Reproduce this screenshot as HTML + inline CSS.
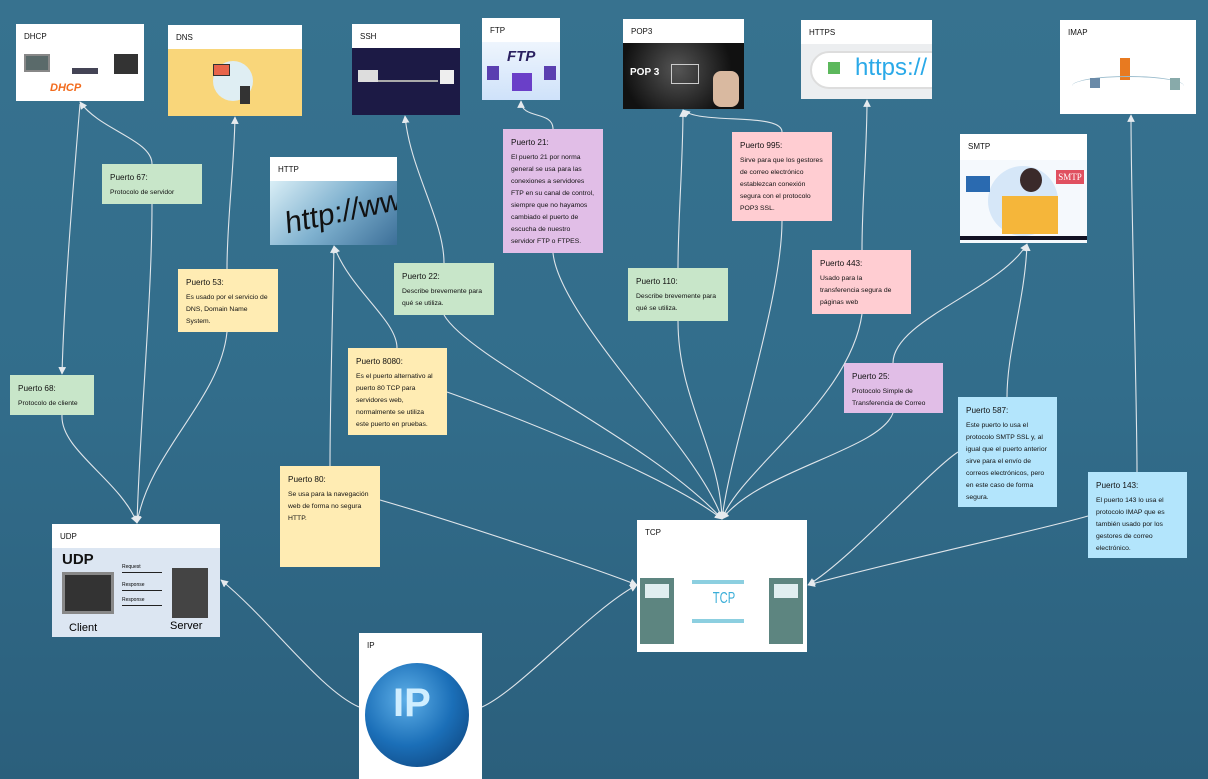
<!DOCTYPE html>
<html><head><meta charset="utf-8"><style>
*{margin:0;padding:0;box-sizing:border-box}
body{width:1208px;height:779px;overflow:hidden;background:linear-gradient(180deg,#37728f 0%,#326d8b 50%,#2b5f7c 100%);font-family:"Liberation Sans",sans-serif;position:relative}
.c{position:absolute;background:#fff;overflow:hidden}
.c .h{height:24px;font-size:8px;color:#111;padding:8px 0 0 8px}
.c .im{position:absolute;left:0;right:0;bottom:0}
.n{position:absolute;padding:8px 9px 8px 8px;font-size:6.8px;line-height:12px;color:#111}
.n b{display:block;font-size:8.2px;font-weight:normal;color:#111;margin-bottom:3px}
.g{background:#c8e6c9}.y{background:#ffecb3}.p{background:#e1bee7}.k{background:#ffcdd2}.l{background:#b3e5fc}
svg{position:absolute;left:0;top:0}
</style></head><body>

<div class="c" style="left:16px;top:24px;width:128px;height:77px"><div class="h">DHCP</div>
<div class="im" style="top:26px;background:#fff">
<div style="position:absolute;left:8px;top:4px;width:26px;height:18px;background:#5a6a6a;border:2px solid #888"></div>
<div style="position:absolute;left:98px;top:4px;width:24px;height:20px;background:#333"></div>
<div style="position:absolute;left:56px;top:18px;width:26px;height:6px;background:#445"></div>
<div style="position:absolute;left:34px;top:32px;font-size:11px;font-weight:bold;font-style:italic;color:#f26b1d">DHCP</div></div></div>

<div class="c" style="left:168px;top:25px;width:134px;height:91px"><div class="h">DNS</div>
<div class="im" style="top:24px;background:#f9d67a">
<div style="position:absolute;left:45px;top:12px;width:40px;height:40px;border-radius:50%;background:#dfeef3"></div>
<div style="position:absolute;left:45px;top:15px;width:17px;height:12px;background:#e8644a;border:1px solid #333"></div>
<div style="position:absolute;left:72px;top:37px;width:10px;height:18px;background:#333"></div></div></div>

<div class="c" style="left:352px;top:24px;width:108px;height:91px"><div class="h">SSH</div>
<div class="im" style="top:24px;background:#1c1a45">
<div style="position:absolute;left:6px;top:22px;width:20px;height:12px;background:#ddd"></div>
<div style="position:absolute;left:88px;top:22px;width:14px;height:14px;background:#eee"></div>
<div style="position:absolute;left:26px;top:32px;width:60px;height:2px;background:#aaa"></div></div></div>

<div class="c" style="left:482px;top:18px;width:78px;height:82px"><div class="h">FTP</div>
<div class="im" style="top:24px;background:linear-gradient(#eef5fd,#cfe2fa)">
<div style="position:absolute;left:25px;top:6px;font-size:15px;font-weight:bold;font-style:italic;color:#2a2060">FTP</div>
<div style="position:absolute;left:30px;top:31px;width:20px;height:18px;background:#6a3fc8"></div>
<div style="position:absolute;left:5px;top:24px;width:12px;height:14px;background:#5a3fb0"></div>
<div style="position:absolute;left:62px;top:24px;width:12px;height:14px;background:#5a3fb0"></div></div></div>

<div class="c" style="left:623px;top:19px;width:121px;height:90px"><div class="h">POP3</div>
<div class="im" style="top:24px;background:radial-gradient(circle at 45% 40%,#555,#111 70%)">
<div style="position:absolute;left:7px;top:24px;font-size:10px;font-weight:bold;color:#fff">POP 3</div>
<div style="position:absolute;left:48px;top:21px;width:28px;height:20px;border:1.5px solid #ccc"></div>
<div style="position:absolute;left:90px;top:28px;width:26px;height:36px;background:#d9b9a0;border-radius:8px"></div></div></div>

<div class="c" style="left:801px;top:20px;width:131px;height:79px"><div class="h">HTTPS</div>
<div class="im" style="top:24px;background:#eceef0">
<div style="position:absolute;left:9px;top:7px;width:140px;height:38px;border-radius:19px;background:#fff;border:2px solid #ddd"></div>
<div style="position:absolute;left:27px;top:18px;width:12px;height:12px;background:#5cb85c"></div>
<div style="position:absolute;left:54px;top:10px;font-size:24px;color:#2aa9e8">https://</div></div></div>

<div class="c" style="left:1060px;top:20px;width:136px;height:94px"><div class="h">IMAP</div>
<div class="im" style="top:26px">
<div style="position:absolute;left:60px;top:12px;width:10px;height:22px;background:#e87a20"></div>
<div style="position:absolute;left:12px;top:30px;width:112px;height:20px;border-top:1px solid #9bc;border-radius:50%"></div>
<div style="position:absolute;left:30px;top:32px;width:10px;height:10px;background:#6a8aa8"></div>
<div style="position:absolute;left:110px;top:32px;width:10px;height:12px;background:#8aa"></div></div></div>

<div class="c" style="left:960px;top:134px;width:127px;height:109px"><div class="h">SMTP</div>
<div class="im" style="top:26px;background:#f5f9fd">
<div style="position:absolute;left:28px;top:6px;width:70px;height:70px;border-radius:50%;background:#d6e7f8"></div>
<div style="position:absolute;left:60px;top:8px;width:22px;height:24px;border-radius:50%;background:#3a2a2a"></div>
<div style="position:absolute;left:96px;top:10px;width:28px;height:14px;background:#e05060;color:#fff;font-size:9px;text-align:center;line-height:14px;font-family:'Liberation Serif',serif">SMTP</div>
<div style="position:absolute;left:42px;top:36px;width:56px;height:38px;background:#f5b63a"></div>
<div style="position:absolute;left:6px;top:16px;width:24px;height:16px;background:#2a6ab0"></div>
<div style="position:absolute;left:0;top:76px;width:127px;height:4px;background:#112"></div></div></div>

<div class="c" style="left:270px;top:157px;width:127px;height:88px"><div class="h">HTTP</div>
<div class="im" style="top:24px;background:linear-gradient(135deg,#d9eef6,#7fb1cf 50%,#3c6f98)">
<div style="position:absolute;left:14px;top:12px;font-size:30px;color:#111;transform:rotate(-12deg) skewX(-8deg);font-family:'Liberation Sans',sans-serif">http://www</div></div></div>

<div class="c" style="left:52px;top:524px;width:168px;height:113px"><div class="h">UDP</div>
<div class="im" style="top:24px;background:#dce6f2">
<div style="position:absolute;left:10px;top:3px;font-size:15px;font-weight:bold;color:#111">UDP</div>
<div style="position:absolute;left:10px;top:24px;width:52px;height:42px;background:#333;border:3px solid #888"></div>
<div style="position:absolute;left:120px;top:20px;width:36px;height:50px;background:#444"></div>
<div style="position:absolute;left:70px;top:24px;width:40px;height:1px;background:#222"></div>
<div style="position:absolute;left:70px;top:42px;width:40px;height:1px;background:#222"></div>
<div style="position:absolute;left:70px;top:57px;width:40px;height:1px;background:#222"></div>
<div style="position:absolute;left:70px;top:16px;font-size:5px">Request</div>
<div style="position:absolute;left:70px;top:34px;font-size:5px">Response</div>
<div style="position:absolute;left:70px;top:49px;font-size:5px">Response</div>
<div style="position:absolute;left:17px;top:74px;font-size:11px">Client</div>
<div style="position:absolute;left:118px;top:72px;font-size:11px">Server</div></div></div>

<div class="c" style="left:637px;top:520px;width:170px;height:132px"><div class="h">TCP</div>
<div style="position:absolute;left:3px;top:58px;width:34px;height:66px;background:#5d8580"><div style="margin:6px 5px;height:14px;background:#e0eef0"></div></div>
<div style="position:absolute;left:132px;top:58px;width:34px;height:66px;background:#5d8580"><div style="margin:6px 5px;height:14px;background:#e0eef0"></div></div>
<div style="position:absolute;left:55px;top:60px;width:52px;height:4px;background:#8ccfe0"></div>
<div style="position:absolute;left:55px;top:99px;width:52px;height:4px;background:#8ccfe0"></div>
<div style="position:absolute;left:71px;top:70px;font-size:16px;color:#3aaed8;transform:scaleX(.7)">TCP</div></div>

<div class="c" style="left:359px;top:633px;width:123px;height:146px"><div class="h">IP</div>
<div style="position:absolute;left:6px;top:30px;width:104px;height:104px;border-radius:50%;background:radial-gradient(circle at 40% 35%,#5fb0e8,#1b6fb8 50%,#0b3b70)"></div>
<div style="position:absolute;left:34px;top:48px;font-size:40px;font-weight:bold;color:#cfeeff">IP</div></div>

<div class="n g" style="left:102px;top:164px;width:100px;height:40px"><b>Puerto 67:</b>Protocolo de servidor</div>
<div class="n g" style="left:10px;top:375px;width:84px;height:40px"><b>Puerto 68:</b>Protocolo de cliente</div>
<div class="n y" style="left:178px;top:269px;width:100px;height:63px"><b>Puerto 53:</b>Es usado por el servicio de DNS, Domain Name System.</div>
<div class="n g" style="left:394px;top:263px;width:100px;height:52px"><b>Puerto 22:</b>Describe brevemente para qué se utiliza.</div>
<div class="n y" style="left:348px;top:348px;width:99px;height:87px"><b>Puerto 8080:</b>Es el puerto alternativo al puerto 80 TCP para servidores web, normalmente se utiliza este puerto en pruebas.</div>
<div class="n y" style="left:280px;top:466px;width:100px;height:101px"><b>Puerto 80:</b>Se usa para la navegación web de forma no segura HTTP.</div>
<div class="n p" style="left:503px;top:129px;width:100px;height:124px"><b>Puerto 21:</b>El puerto 21 por norma general se usa para las conexiones a servidores FTP en su canal de control, siempre que no hayamos cambiado el puerto de escucha de nuestro servidor FTP o FTPES.</div>
<div class="n g" style="left:628px;top:268px;width:100px;height:53px"><b>Puerto 110:</b>Describe brevemente para qué se utiliza.</div>
<div class="n k" style="left:732px;top:132px;width:100px;height:89px"><b>Puerto 995:</b>Sirve para que los gestores de correo electrónico establezcan conexión segura con el protocolo POP3 SSL.</div>
<div class="n k" style="left:812px;top:250px;width:99px;height:64px"><b>Puerto 443:</b>Usado para la transferencia segura de páginas web</div>
<div class="n p" style="left:844px;top:363px;width:99px;height:50px"><b>Puerto 25:</b>Protocolo Simple de Transferencia de Correo</div>
<div class="n l" style="left:958px;top:397px;width:99px;height:110px"><b>Puerto 587:</b>Este puerto lo usa el protocolo SMTP SSL y, al igual que el puerto anterior sirve para el envío de correos electrónicos, pero en este caso de forma segura.</div>
<div class="n l" style="left:1088px;top:472px;width:99px;height:86px"><b>Puerto 143:</b>El puerto 143 lo usa el protocolo IMAP que es también usado por los gestores de correo electrónico.</div>

<svg width="1208" height="779" viewBox="0 0 1208 779">
<defs><marker id="a" viewBox="0 0 10 10" refX="9" refY="5" markerWidth="7" markerHeight="7" orient="auto"><path d="M0,0L10,5L0,10z" fill="#e6eaee"/></marker></defs>
<g fill="none" stroke="#dfe5ea" stroke-width="1.1" marker-end="url(#a)">
<path d="M152,164C152,140 100,130 80,102"/>
<path d="M80,104C72,200 64,300 62,374"/>
<path d="M152,204C152,300 140,420 137,523"/>
<path d="M62,415C60,450 120,480 137,523"/>
<path d="M227,269C227,220 234,170 235,117"/>
<path d="M227,332C220,400 150,450 137,523"/>
<path d="M444,263C444,220 410,170 405,116"/>
<path d="M444,315C470,360 650,440 722,519"/>
<path d="M330,466C330,400 333,300 334,246"/>
<path d="M397,348C397,320 350,290 334,246"/>
<path d="M447,392C470,400 660,470 722,519"/>
<path d="M380,500C450,520 600,570 637,585"/>
<path d="M553,129C553,110 521,120 521,101"/>
<path d="M553,253C560,320 700,450 722,519"/>
<path d="M678,268C678,220 683,160 683,110"/>
<path d="M678,321C678,400 720,450 722,519"/>
<path d="M782,132C782,112 700,125 683,110"/>
<path d="M782,221C782,300 730,450 722,519"/>
<path d="M862,250C862,200 867,150 867,100"/>
<path d="M862,314C850,400 740,470 722,519"/>
<path d="M893,363C893,320 1000,290 1027,244"/>
<path d="M893,413C880,450 760,470 722,519"/>
<path d="M1007,397C1007,350 1025,300 1027,244"/>
<path d="M958,452C930,470 850,560 808,585"/>
<path d="M1137,472C1137,400 1131,200 1131,115"/>
<path d="M1088,516C1040,530 900,560 808,585"/>
<path d="M359,707C320,690 270,620 221,580"/>
<path d="M482,707C520,690 590,610 637,585"/>
</g></svg>
</body></html>
